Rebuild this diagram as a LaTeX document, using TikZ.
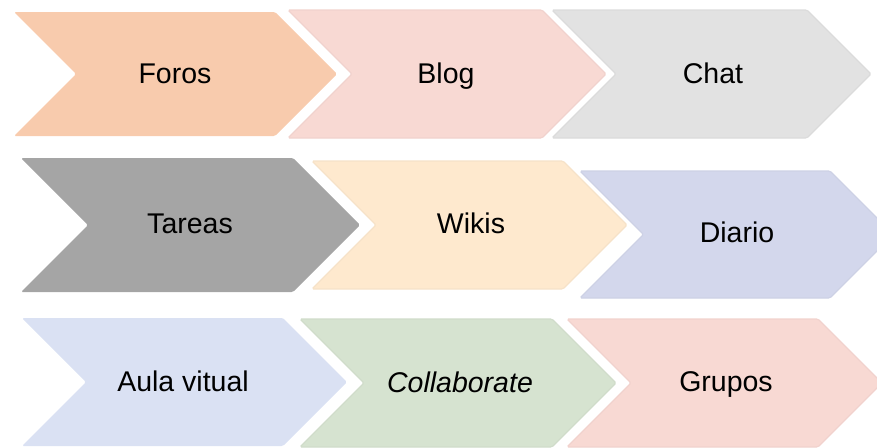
\documentclass[tikz,border=0pt]{standalone}
\usepackage{fontspec}
\setmainfont{Liberation Sans}
\definecolor{cForos}{HTML}{F8CBAD}
\definecolor{cBlog}{HTML}{F8D9D3}
\definecolor{cChat}{HTML}{E2E2E2}
\definecolor{cTareas}{HTML}{A5A5A5}
\definecolor{cWikis}{HTML}{FEE9CE}
\definecolor{cDiario}{HTML}{D3D7EC}
\definecolor{cAula}{HTML}{DAE1F3}
\definecolor{cColl}{HTML}{D6E3D0}
\definecolor{cGrupos}{HTML}{F8D9D3}
\tikzset{
  chevshape/.style={rounded corners=1.5pt},
  chevedge/.style={draw=#1!97!black, line width=1.2pt},
  chevlabel/.style={anchor=base, inner sep=0pt, font=\fontsize{28.5}{34}\selectfont, text=black}
}
% #1 left, #2 top, #3 bottom, #4 right corner, #5 fill, #6 extra style
\newcommand{\chevron}[6]{%
  \pgfmathsetmacro{\hh}{(#3-#2)/2}%
  \pgfmathsetmacro{\mm}{(#3+#2)/2}%
  \path[chevshape, fill=#5, #6] (#1,#2) -- (#4,#2) -- ({#4+\hh},\mm) -- (#4,#3) -- (#1,#3) -- ({#1+\hh},\mm) -- cycle;%
}
\begin{document}
\begin{tikzpicture}[x=1pt, y=-1pt]
\useasboundingbox (0,0) rectangle (877,447);
\clip (0,0) rectangle (877,447);
% row 1
\chevron{14}{12}{136}{275}{cForos}{}
\chevron{288}{10}{138}{542}{cBlog}{chevedge=cBlog}
\chevron{552}{10}{138}{807}{cChat}{chevedge=cChat}
% row 2
\chevron{21}{158}{292}{293}{cTareas}{}
\chevron{312}{161}{289}{563}{cWikis}{chevedge=cWikis}
\chevron{580}{171}{298}{830}{cDiario}{chevedge=cDiario}
% row 3
\chevron{22}{318}{446}{283}{cAula}{}
\chevron{300}{319}{447}{552}{cColl}{chevedge=cColl}
\chevron{567}{319}{447}{818}{cGrupos}{chevedge=cGrupos}
% labels
\node[chevlabel] (foros) at (175,83) {Foros};
\node[chevlabel] (blog) at (446,83) {Blog};
\node[chevlabel] (chat) at (713,83) {Chat};
\node[chevlabel] (tareas) at (190,233) {Tareas};
\node[chevlabel] (wikis) at (471,233) {Wikis};
\node[chevlabel] (diario) at (737,242) {Diario};
\node[chevlabel] (aula) at (183,391) {Aula vitual};
\node[chevlabel] (coll) at (460,392) {\itshape Collaborate};
\node[chevlabel] (grupos) at (726,391) {Grupos};
\end{tikzpicture}
\end{document}
